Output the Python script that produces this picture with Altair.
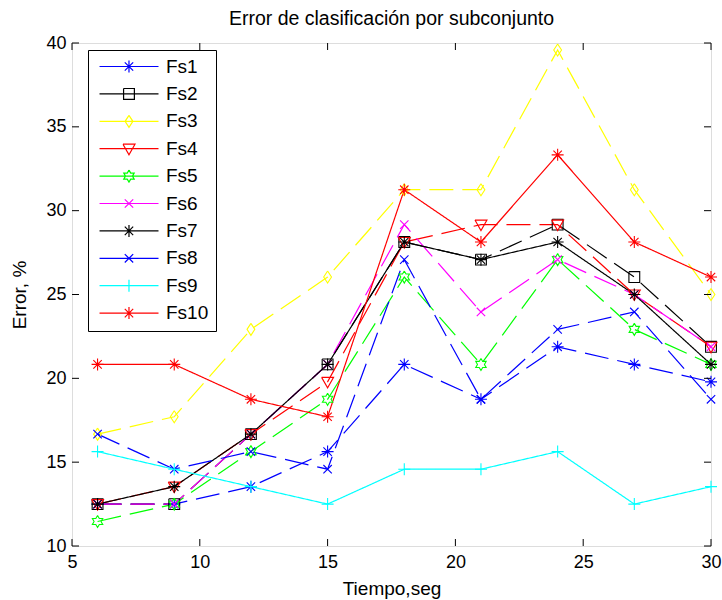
import math
import altair as alt
import pandas as pd

# ---------------- data ----------------
tiempo = [6, 9, 12, 15, 18, 21, 24, 27, 30]
names = ["Fs1", "Fs2", "Fs3", "Fs4", "Fs5", "Fs6", "Fs7", "Fs8", "Fs9", "Fs10"]
fs1 = [12.50, 12.50, 13.54, 15.63, 20.83, 18.75, 21.88, 20.83, 19.79]
fs2 = [12.50, 12.50, 16.67, 20.83, 28.13, 27.08, 29.17, 26.04, 21.88]
fs3 = [16.67, 17.71, 22.92, 26.04, 31.25, 31.25, 39.58, 31.25, 25.00]
fs4 = [12.50, 13.54, 16.67, 19.79, 28.13, 29.17, 29.17, 25.00, 21.88]
fs5 = [11.46, 12.50, 15.63, 18.75, 26.04, 20.83, 27.08, 22.92, 20.83]
fs6 = [12.50, 12.50, 16.67, 20.83, 29.17, 23.96, 27.08, 25.00, 21.88]
fs7 = [12.50, 13.54, 16.67, 20.83, 28.13, 27.08, 28.13, 25.00, 20.83]
fs8 = [16.67, 14.58, 15.63, 14.58, 27.08, 18.75, 22.92, 23.96, 18.75]
fs9 = [15.63, 14.58, 13.54, 12.50, 14.58, 14.58, 15.63, 12.50, 13.54]
fs10 = [20.83, 20.83, 18.75, 17.71, 31.25, 28.13, 33.33, 28.13, 26.04]
series_values = [fs1, fs2, fs3, fs4, fs5, fs6, fs7, fs8, fs9, fs10]
x_ticks = [5, 10, 15, 20, 25, 30]
y_ticks = [10, 15, 20, 25, 30, 35, 40]

# ---------------- styles ----------------
colors = ["#0000ff", "#000000", "#ffff00", "#ff0000", "#00ff00",
          "#ff00ff", "#000000", "#0000ff", "#00ffff", "#ff0000"]
DASH = [24, 9]
SOLID = [1, 0]
dashes = [DASH, DASH, DASH, DASH, DASH, DASH, SOLID, DASH, SOLID, SOLID]

# marker geometry (polylines in unit coords, y down)
AST = [[(-1, 0), (1, 0)], [(0, -1), (0, 1)], [(-0.7, -0.7), (0.7, 0.7)], [(-0.7, 0.7), (0.7, -0.7)]]
SQR = [[(-0.9, -0.9), (0.9, -0.9), (0.9, 0.9), (-0.9, 0.9), (-0.9, -0.9)]]
DIA = [[(0, -1), (0.65, 0), (0, 1), (-0.65, 0), (0, -1)]]
TRI = [[(-1, -0.75), (1, -0.75), (0, 1), (-1, -0.75)]]
_hex = []
for k in range(13):
    a = math.pi / 2 + k * math.pi / 6
    r = 1.0 if k % 2 == 0 else 0.58
    _hex.append((r * math.cos(a), -r * math.sin(a)))
HEX = [_hex]
XX = [[(-0.7, -0.7), (0.7, 0.7)], [(-0.7, 0.7), (0.7, -0.7)]]
PLUS = [[(-1, 0), (1, 0)], [(0, -1), (0, 1)]]
marker_geo = [AST, SQR, DIA, TRI, HEX, XX, AST, XX, PLUS, AST]


def to_path(geo, dx=0.0):
    parts = []
    for poly in geo:
        pts = [f"{x + dx:.3f},{y:.3f}" for x, y in poly]
        parts.append("M" + "L".join(pts))
    return "".join(parts)


marker_paths = [to_path(g) for g in marker_geo]
LEG_DX = 4.08
legend_paths = ["M-0.83,0L9.0,0" + to_path(g, LEG_DX) for g in marker_geo]

FONT = "Liberation Sans"
W, H = 639, 503

rows = []
for name, vals in zip(names, series_values):
    for ti, v in zip(tiempo, vals):
        rows.append({"serie": name, "t": ti, "err": v})
df = pd.DataFrame(rows)

xscale = alt.Scale(domain=[5, 30], nice=False, zero=False)
yscale = alt.Scale(domain=[10, 40], nice=False, zero=False)
cscale = alt.Scale(domain=names, range=colors)

xaxis = alt.Axis(values=x_ticks, title="Tiempo,seg", ticks=False, grid=False, domain=False,
                 labelFont=FONT, labelFontSize=18, labelColor="black", labelPadding=7,
                 labelFlush=False, titleFont=FONT, titleFontSize=19, titleFontWeight="normal",
                 titleColor="black", titlePadding=8)
yaxis = alt.Axis(values=y_ticks, title="Error, %", ticks=False, grid=False, domain=False,
                 labelFont=FONT, labelFontSize=18, labelColor="black", labelPadding=6,
                 labelFlush=False, titleFont=FONT, titleFontSize=19, titleFontWeight="normal",
                 titleColor="black", titlePadding=16)

base = alt.Chart(df)

lines = base.mark_line(strokeWidth=1.2, clip=True).encode(
    x=alt.X("t:Q", scale=xscale, axis=xaxis),
    y=alt.Y("err:Q", scale=yscale, axis=yaxis),
    color=alt.Color("serie:N", scale=cscale, legend=None),
    strokeDash=alt.StrokeDash("serie:N", scale=alt.Scale(domain=names, range=dashes), legend=None),
)

points = base.mark_point(filled=False, size=144, strokeWidth=1.1, opacity=1).encode(
    x=alt.X("t:Q", scale=xscale, axis=xaxis),
    y=alt.Y("err:Q", scale=yscale, axis=yaxis),
    color=alt.Color("serie:N", scale=cscale, legend=None),
    shape=alt.Shape("serie:N", scale=alt.Scale(domain=names, range=marker_paths), legend=None),
)

leg = alt.Legend(orient="none", legendX=16, legendY=7, padding=7, strokeColor="black",
                 fillColor="white", title=None, symbolSize=144, symbolStrokeWidth=1.2,
                 symbolOpacity=1, labelFont=FONT, labelFontSize=19, labelColor="black",
                 labelOffset=52, rowPadding=7.4, labelLimit=200)

proxy = base.mark_point(filled=False, size=144, opacity=0).encode(
    x=alt.X("t:Q", scale=xscale, axis=xaxis),
    y=alt.Y("err:Q", scale=yscale, axis=yaxis),
    color=alt.Color("serie:N", scale=cscale, legend=leg),
    shape=alt.Shape("serie:N", scale=alt.Scale(domain=names, range=legend_paths), legend=leg),
)

xt_df = pd.DataFrame({"xt": x_ticks})
yt_df = pd.DataFrame({"yt": y_ticks})
TK = 7
bottom_ticks = alt.Chart(xt_df).mark_rule(color="black", strokeWidth=1).encode(
    x=alt.X("xt:Q", scale=xscale, axis=xaxis), y=alt.value(H), y2=alt.value(H - TK))
top_ticks = alt.Chart(xt_df).mark_rule(color="black", strokeWidth=1).encode(
    x=alt.X("xt:Q", scale=xscale, axis=xaxis), y=alt.value(0), y2=alt.value(TK))
left_ticks = alt.Chart(yt_df).mark_rule(color="black", strokeWidth=1).encode(
    y=alt.Y("yt:Q", scale=yscale, axis=yaxis), x=alt.value(0), x2=alt.value(TK))
right_ticks = alt.Chart(yt_df).mark_rule(color="black", strokeWidth=1).encode(
    y=alt.Y("yt:Q", scale=yscale, axis=yaxis), x=alt.value(W), x2=alt.value(W - TK))

chart = alt.layer(
    lines, points, proxy, bottom_ticks, top_ticks, left_ticks, right_ticks
).resolve_scale(shape="independent", color="independent").properties(
    width=W, height=H,
    title=alt.TitleParams("Error de clasificación por subconjunto", font=FONT, fontSize=19.5,
                          fontWeight="normal", color="black", anchor="middle", offset=5),
    autosize=alt.AutoSizeParams(type="none"),
    padding={"left": 72, "top": 43, "right": 11, "bottom": 54},
).configure_view(stroke="black", strokeWidth=1).configure(background="white")

chart.save("out.html", embed_options={"renderer": "svg", "actions": False})
